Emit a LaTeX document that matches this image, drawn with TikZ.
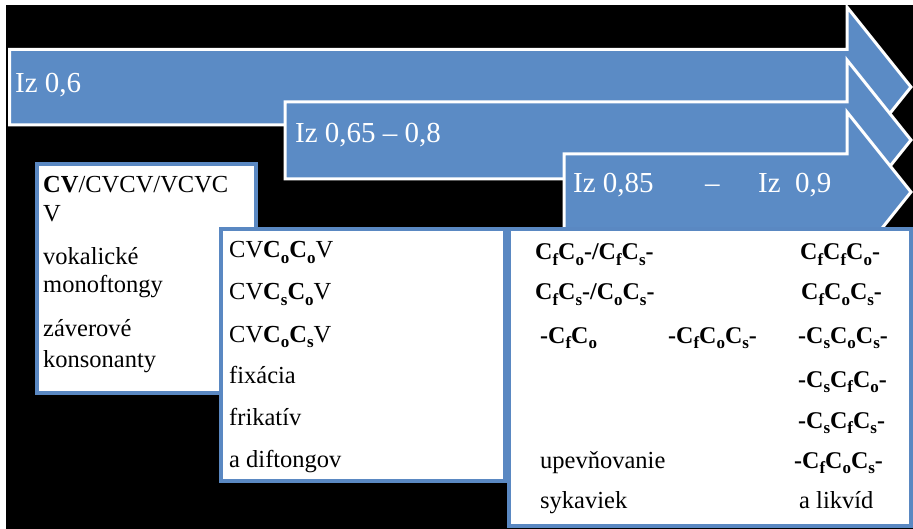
\documentclass[tikz,border=0pt]{standalone}
\usepackage{fontspec}
\setmainfont{Liberation Serif}
\definecolor{arrowblue}{HTML}{5B8BC5}
\definecolor{boxblue}{HTML}{5A88C2}
\newcommand\Cx[1]{C\raisebox{-0.22em}{\fontsize{17}{17}\selectfont #1}}
\begin{document}
\begin{tikzpicture}[x=1pt,y=-1pt,
 arrowshape/.style={fill=arrowblue, draw=white, line width=3pt, line join=miter},
 panel/.style={fill=white, draw=boxblue, line width=3.5pt, anchor=north west, inner sep=0pt, outer sep=0pt},
 atext/.style={anchor=base west, text=white, font=\fontsize{29}{34}\selectfont, inner sep=0pt},
 btext/.style={anchor=base west, font=\fontsize{24.5}{29}\selectfont, inner sep=0pt},
 ftext/.style={anchor=base west, font=\fontsize{24}{29}\selectfont\bfseries, inner sep=0pt}]
\useasboundingbox (0,0) rectangle (913,529);
\fill[white] (0,0) rectangle (913,529);
\fill[black] (6,5) rectangle (913,529);
% arrows
\draw[arrowshape] (9.5,49.5) -- (847,49.5) -- (847,7) -- (911,87) -- (847,167) -- (847,125) -- (9.5,125) -- cycle;
\draw[arrowshape] (285,102) -- (847,102) -- (847,60) -- (911,140) -- (847,220) -- (847,179) -- (285,179) -- cycle;
\draw[arrowshape] (564,154) -- (847,154) -- (847,112) -- (911,192) -- (847,272) -- (847,230) -- (564,230) -- cycle;
\node[atext] (a1) at (15,93) {Iz 0,6};
\node[atext] (a2) at (295,143) {Iz 0,65 – 0,8};
\node[atext] (a3a) at (573,193) {Iz 0,85};
\node[atext] (a3b) at (705,193) {–};
\node[atext] (a3c) at (758,193) {Iz\ \ 0,9};
% panels
\node[panel, minimum width=219pt, minimum height=229pt] (b1) at (37,164) {};
\node[panel, minimum width=284pt, minimum height=252pt] (b2) at (221,229) {};
\node[panel, minimum width=402pt, minimum height=297pt] (b3) at (509,229) {};
% box 1 text
\node[btext] (t11) at (43,193) {\textbf{CV}/CVCV/VCVC};
\node[btext] (t12) at (43,222) {V};
\node[btext] (t13) at (43,265) {vokalické};
\node[btext] (t14) at (43,293) {monoftongy};
\node[btext] (t15) at (43,337) {záverové};
\node[btext] (t16) at (43,367) {konsonanty};
% box 2 text
\node[btext] (t21) at (229,258) {CV\textbf{\Cx{o}\Cx{o}}V};
\node[btext] (t22) at (229,300) {CV\textbf{\Cx{s}\Cx{o}}V};
\node[btext] (t23) at (229,342) {CV\textbf{\Cx{o}\Cx{s}}V};
\node[btext] (t24) at (229,383) {fixácia};
\node[btext] (t25) at (229,425) {frikatív};
\node[btext] (t26) at (229,467) {a diftongov};
% box 3 text
\node[ftext] (t31) at (535,260) {\Cx{f}\Cx{o}-/\Cx{f}\Cx{s}-};
\node[ftext] (t32) at (535,300) {\Cx{f}\Cx{s}-/\Cx{o}\Cx{s}-};
\node[ftext] (t33) at (540,343) {-\Cx{f}\Cx{o}};
\node[ftext] (t34) at (668,343) {-\Cx{f}\Cx{o}\Cx{s}-};
\node[ftext] (t35) at (800,260) {\Cx{f}\Cx{f}\Cx{o}-};
\node[ftext] (t36) at (801,300) {\Cx{f}\Cx{o}\Cx{s}-};
\node[ftext] (t37) at (798,343) {-\Cx{s}\Cx{o}\Cx{s}-};
\node[ftext] (t38) at (798,387) {-\Cx{s}\Cx{f}\Cx{o}-};
\node[ftext] (t39) at (798,428) {-\Cx{s}\Cx{f}\Cx{s}-};
\node[ftext] (t310) at (794,468) {-\Cx{f}\Cx{o}\Cx{s}-};
\node[btext] (t311) at (540,468) {upevňovanie};
\node[btext] (t312) at (540,508) {sykaviek};
\node[btext] (t313) at (799,508) {a likvíd};
\end{tikzpicture}
\end{document}
